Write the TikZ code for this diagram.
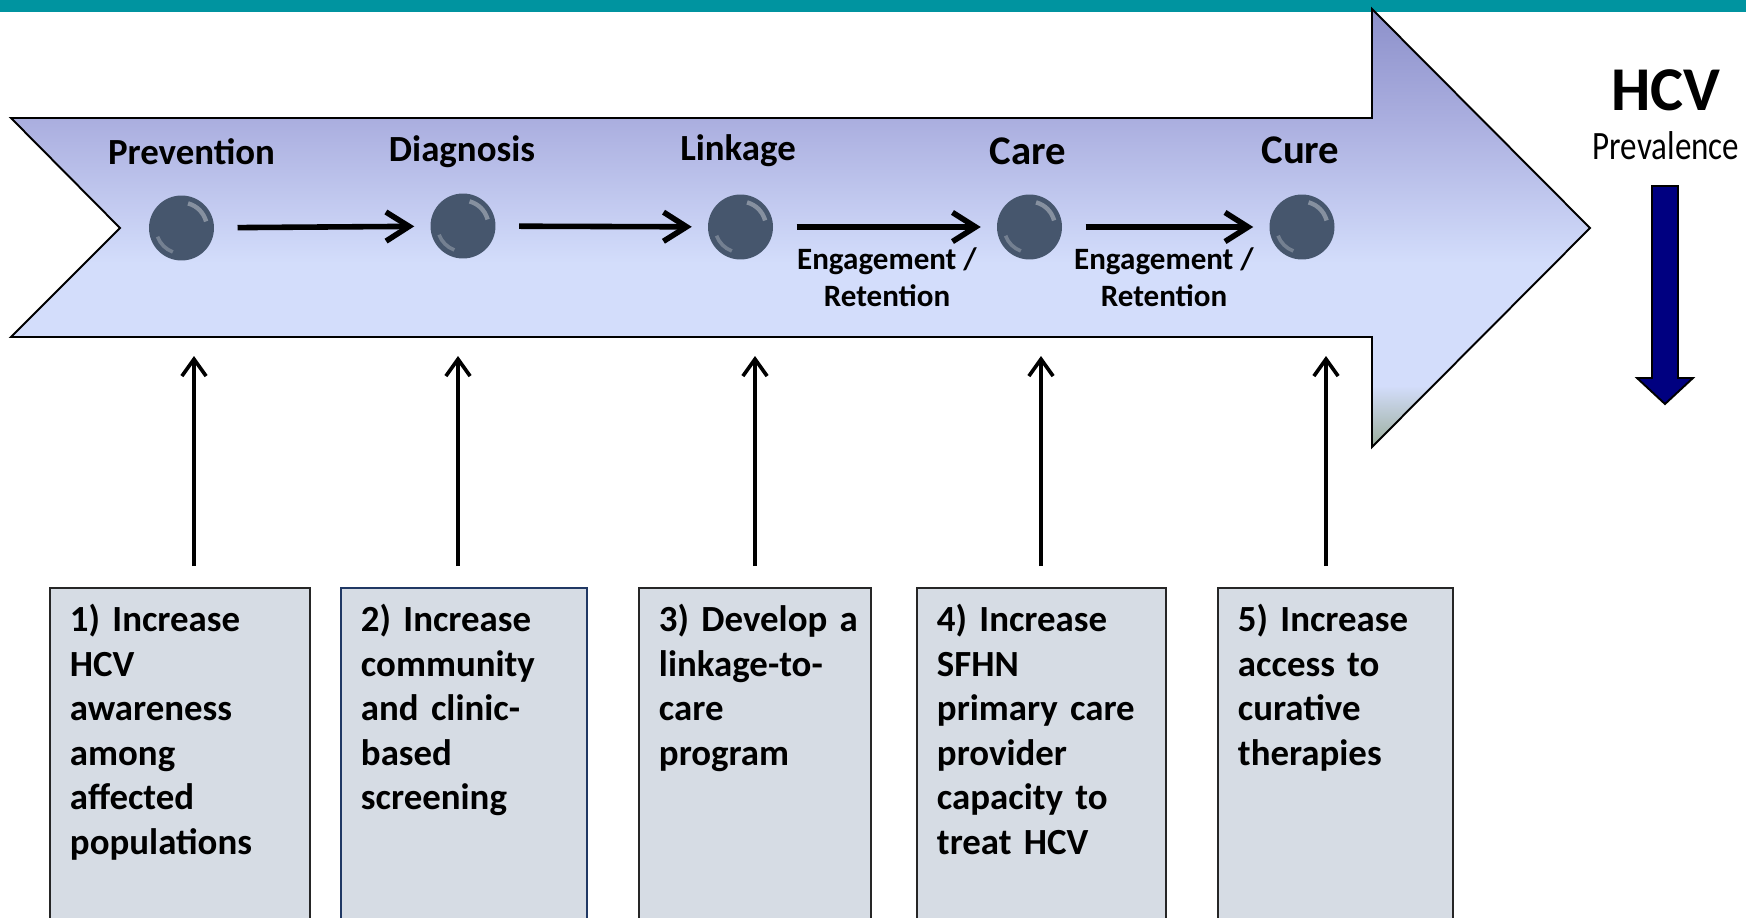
\documentclass[tikz,border=0pt]{standalone}
\usepackage{fontspec}
\setmainfont{Carlito}
\usepackage{xcolor}
\usepackage{tikz}
\usetikzlibrary{arrows.meta}

\definecolor{barteal}{RGB}{0,148,160}
\definecolor{slate}{RGB}{70,86,109}
\definecolor{goalfill}{RGB}{214,220,228}
\definecolor{goalline}{RGB}{38,38,38}
\definecolor{goalblue}{RGB}{32,56,100}
\definecolor{dropnavy}{RGB}{0,0,128}
\definecolor{streamtop}{RGB}{140,144,202}
\definecolor{streammid}{RGB}{170,174,223}
\definecolor{streamlight}{RGB}{211,221,251}
\definecolor{streamgreen}{RGB}{155,174,156}

\pgfdeclareverticalshading{stream}{100bp}{color(0bp)=(streamgreen); color(25bp)=(streamgreen); color(32bp)=(streamlight); color(46bp)=(streamlight); color(62.5bp)=(streammid); color(75bp)=(streamtop); color(100bp)=(streamtop)}

\begin{document}
\begin{tikzpicture}[x=0.41237pt, y=-0.41237pt,
    stage/.style={font=\fontsize{15.2}{18}\selectfont\bfseries, anchor=base, inner sep=0pt},
    bigstage/.style={stage, font=\fontsize{16.8}{20}\selectfont\bfseries},
    ball/.style={circle, fill=slate, minimum size=26.8pt, inner sep=0pt, path picture={
        \draw[white, opacity=0.35, line width=1.8pt] ([shift={(15:10.5pt)}]path picture bounding box.center) arc[start angle=15, end angle=75, radius=10.5pt];
        \draw[white, opacity=0.25, line width=1.5pt] ([shift={(200:10.5pt)}]path picture bounding box.center) arc[start angle=200, end angle=250, radius=10.5pt];}},
    flow/.style={line width=2.3pt, -{Straight Barb[length=9.5pt, width=12pt]}, shorten <=9.5pt, shorten >=6.5pt},
    engage/.style={font=\fontsize{12.8}{15.2}\selectfont\bfseries, align=center, anchor=base, inner sep=0pt},
    goal/.style={draw=goalline, line width=0.8pt, fill=goalfill, anchor=north west, align=left, inner xsep=8.25pt, inner ysep=0pt, text height=18pt, text depth=170pt, font=\fontsize{15.2}{18.35}\selectfont\bfseries},
    lift/.style={line width=1.5pt, -{Straight Barb[length=7pt, width=10pt]}, shorten <=8.66pt}]
    \useasboundingbox (0,0) rectangle (1746,918);
    \clip (0,0) rectangle (1746,918);

    \fill[barteal] (0,0) rectangle (1746,12);
    \shadedraw[shading=stream, line width=0.8pt] (11,118) -- (1372,118) -- (1372,9) -- (1590,228) -- (1372,447) -- (1372,337) -- (11,337) -- (120,228) -- cycle;

    \node[stage] (lprev) at (191.5,164) {Prevention};
    \node[stage] (ldiag) at (462,161) {Diagnosis};
    \node[stage] (llink) at (738,160) {Linkage};
    \node[bigstage] (lcare) at (1028,164) {Care};
    \node[bigstage] (lcure) at (1300.5,163) {Cure};

    \node[ball] (prev) at (181.5,228) {};
    \node[ball] (diag) at (463,226) {};
    \node[ball] (link) at (740.5,227) {};
    \node[ball] (care) at (1029.5,227) {};
    \node[ball] (cure) at (1302,227) {};

    \draw[flow] (prev) -- (diag);
    \draw[flow] (diag) -- (link);
    \draw[flow] (link) -- (care);
    \draw[flow] (care) -- (cure);

    \node[engage] (ret1) at (887,306) {Engagement /\\Retention};
    \node[engage] (ret2) at (1164,306) {Engagement /\\Retention};

    \node[font=\fontsize{25.7}{30}\selectfont\bfseries, anchor=base, inner sep=0pt] (hcv) at (1666,110) {HCV};
    \node[font=\fontsize{16.6}{20}\selectfont, anchor=base, inner sep=0pt] (prevalence) at (1666,159) {\scalebox{0.82}[1]{Prevalence}};
    \filldraw[fill=dropnavy, draw=black, line width=0.8pt] (1652,186) -- (1678,186) -- (1678,378) -- (1693,378) -- (1665,404) -- (1637,378) -- (1652,378) -- cycle;

    \node[goal, text width=90.9pt] (g1) at (49,587) {1)~Increase\\HCV\\awareness\\among\\affected\\populations};
    \node[goal, draw=goalblue, text width=84.9pt] (g2) at (340,587) {2)~Increase\\community\\and~clinic-\\based\\screening};
    \node[goal, text width=79.2pt] (g3) at (638,587) {\mbox{3) Develop a}\\linkage-to-\\care\\program};
    \node[goal, text width=86.2pt] (g4) at (916,587) {4)~Increase\\SFHN\\primary~care\\provider\\capacity~to\\treat~HCV};
    \node[goal, text width=80.4pt] (g5) at (1217,587) {5)~Increase\\access~to\\curative\\therapies};

    \coordinate (t1) at (194,356);
    \coordinate (t2) at (458,356);
    \coordinate (t3) at (755,356);
    \coordinate (t4) at (1041,356);
    \coordinate (t5) at (1326,356);

    \draw[lift] (t1 |- g1.north) -- (t1);
    \draw[lift] (t2 |- g2.north) -- (t2);
    \draw[lift] (t3 |- g3.north) -- (t3);
    \draw[lift] (t4 |- g4.north) -- (t4);
    \draw[lift] (t5 |- g5.north) -- (t5);
\end{tikzpicture}
\end{document}
